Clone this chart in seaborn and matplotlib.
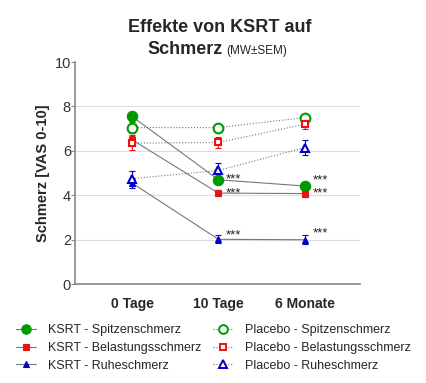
import seaborn as sns
import matplotlib.pyplot as plt
from matplotlib.lines import Line2D
import pandas as pd

# data
zeitpunkte = ['0 Tage', '10 Tage', '6 Monate']
serien = ['KSRT - Spitzenschmerz', 'KSRT - Belastungsschmerz', 'KSRT - Ruheschmerz',
          'Placebo - Spitzenschmerz', 'Placebo - Belastungsschmerz', 'Placebo - Ruheschmerz']

ksrt_spitze = [7.55, 4.7, 4.42]
ksrt_belastung = [6.5, 4.1, 4.08]
ksrt_ruhe = [4.55, 2.02, 2.0]
placebo_spitze = [7.05, 7.05, 7.5]
placebo_belastung = [6.35, 6.38, 7.2]
placebo_ruhe = [4.75, 5.12, 6.15]

sem_ksrt_spitze = [0.2, 0.18, 0.2]
sem_ksrt_belastung = [0.22, 0.15, 0.15]
sem_ksrt_ruhe = [0.2, 0.18, 0.2]
sem_placebo_spitze = [0.25, 0.15, 0.12]
sem_placebo_belastung = [0.3, 0.25, 0.2]
sem_placebo_ruhe = [0.35, 0.35, 0.35]

signif = ['', '***', '***']
# where the stars sit for the KSRT groups (Spitze, Belastung, Ruhe)
stern_y = [[None, 4.72, 4.66], [None, 4.1, 4.08], [None, 2.2, 2.28]]

werte = [ksrt_spitze, ksrt_belastung, ksrt_ruhe, placebo_spitze, placebo_belastung, placebo_ruhe]
fehler = [sem_ksrt_spitze, sem_ksrt_belastung, sem_ksrt_ruhe,
          sem_placebo_spitze, sem_placebo_belastung, sem_placebo_ruhe]

rows = []
for name, w, f in zip(serien, werte, fehler):
    for i, (v, e) in enumerate(zip(w, f)):
        rows.append({'Serie': name, 'x': i, 'Wert': v, 'SEM': e})
df = pd.DataFrame(rows)

sns.set_style('white')
plt.rcParams['font.family'] = ['Liberation Sans', 'DejaVu Sans']

stile = {
    'KSRT - Spitzenschmerz': dict(color='#009900', marker='o', ms=7.5, fill=True, ls='-'),
    'KSRT - Belastungsschmerz': dict(color='#ee1111', marker='s', ms=5, fill=True, ls='-'),
    'KSRT - Ruheschmerz': dict(color='#0000cc', marker='^', ms=4.5, fill=True, ls='-'),
    'Placebo - Spitzenschmerz': dict(color='#009900', marker='o', ms=7, fill=False, ls=':'),
    'Placebo - Belastungsschmerz': dict(color='#ee1111', marker='s', ms=5, fill=False, ls=':'),
    'Placebo - Ruheschmerz': dict(color='#0000cc', marker='^', ms=6, fill=False, ls=':'),
}

fig = plt.figure(figsize=(4.27, 3.83), dpi=100)
ax = fig.add_axes([0.176, 0.258, 0.667, 0.58])

for y in [2, 4, 6, 8]:
    ax.axhline(y, color='#dddddd', lw=0.8, zorder=0)

for name in serien:
    st = stile[name]
    d = df[df.Serie == name]
    sns.lineplot(data=d, x='x', y='Wert', ax=ax, color='#777777', lw=0.8,
                 linestyle=st['ls'], zorder=1, legend=False)
    ax.errorbar(d.x, d.Wert, yerr=d.SEM, fmt='none', ecolor=st['color'],
                elinewidth=0.8, capsize=2.2, capthick=0.8, zorder=2)
    ax.plot(d.x, d.Wert, linestyle='none', marker=st['marker'], ms=st['ms'],
            color=st['color'], mfc=st['color'] if st['fill'] else 'white',
            mec=st['color'], mew=1.5 if not st['fill'] else 0.8, zorder=3)

for sy in stern_y:
    for i, y in enumerate(sy):
        if signif[i]:
            ax.text(i + 0.09, y, signif[i], fontsize=9.5, va='center', ha='left', color='#222222')

handles = []
for name in serien:
    st = stile[name]
    handles.append(Line2D([0], [0], color='#777777', lw=0.8, linestyle=st['ls'],
                          marker=st['marker'], ms=st['ms'] * 0.9, mec=st['color'],
                          mfc=st['color'] if st['fill'] else 'white',
                          mew=1.4 if not st['fill'] else 0.8))
fig.legend(handles, serien, loc='lower center', bbox_to_anchor=(0.5, 0.0), ncol=2,
           frameon=False, fontsize=9, handlelength=1.6, columnspacing=0.9,
           labelspacing=0.45, handletextpad=1.0)

ax.set_xlim(-0.66, 2.64)
ax.set_ylim(0, 10)
ax.set_xticks(range(len(zeitpunkte)))
ax.set_xticklabels(zeitpunkte, fontweight='bold', fontsize=10)
ax.set_yticks([0, 2, 4, 6, 8, 10])
ax.tick_params(axis='y', left=True, length=3, color='#888888', labelsize=10.5,
               labelcolor='#333333', pad=0)
ax.tick_params(axis='x', bottom=False, pad=6)
ax.set_xlabel('')
ax.set_ylabel('Schmerz [VAS 0-10]', fontweight='bold', fontsize=10.5, labelpad=3)
for s in ['top', 'right']:
    ax.spines[s].set_visible(False)
for s in ['left', 'bottom']:
    ax.spines[s].set_color('#888888')
    ax.spines[s].set_linewidth(1.2)

fig.text(0.515, 0.927, 'Effekte von KSRT auf', ha='center', va='center',
         fontsize=13, fontweight='bold')
fig.text(0.522, 0.87, 'Schmerz', ha='right', va='center', fontsize=13, fontweight='bold')
fig.text(0.53, 0.868, '(MW±SEM)', ha='left', va='center', fontsize=8.5)

fig.savefig('out.png', dpi=100)
